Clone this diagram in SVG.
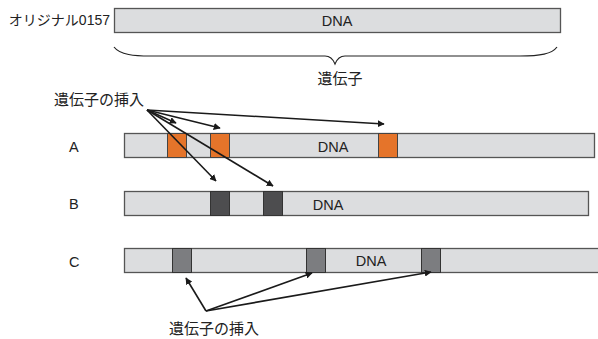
<svg xmlns="http://www.w3.org/2000/svg" width="598" height="339" viewBox="0 0 598 339">
<defs>
<style>
text{font-family:"Liberation Sans","Noto Sans CJK JP",sans-serif;font-size:14px;fill:#222}
.cjk{font-size:15px}
.lat{font-size:14.5px}
.bar{fill:#dcdddf;stroke:#555;stroke-width:1.3}
.or{fill:#e5742a;stroke:#444;stroke-width:1}
.dk{fill:#4d4d4f;stroke:#333;stroke-width:1}
.md{fill:#7c7d80;stroke:#333;stroke-width:1}
.arr{stroke:#1a1a1a;stroke-width:1.6;fill:none;marker-end:url(#ah)}
</style>
<marker id="ah" viewBox="0 0 10 10" refX="9" refY="5" markerWidth="7" markerHeight="7" markerUnits="userSpaceOnUse" orient="auto">
<path d="M0,0 L10,5 L0,10 z" fill="#1a1a1a"/>
</marker>
</defs>
<g id="original">
<text x="110" y="25" text-anchor="end">オリジナル0157</text>
<rect class="bar" x="114.5" y="8.5" width="446" height="24"/>
<text class="lat" x="337" y="26" text-anchor="middle">DNA</text>
<path d="M114,47 C120,55 135,56 150,56 L325,56 C330,56 333,59 335,64 C337,59 340,56 345,56 L520,56 C540,56 552,54 557,47" fill="none" stroke="#222" stroke-width="1.2"/>
<text class="cjk" x="340" y="84" text-anchor="middle">遺伝子</text>
</g>
<g id="labelTop"><text class="cjk" x="54" y="105">遺伝子の挿入</text></g>
<g id="A">
<text class="lat" x="69" y="152">A</text>
<rect class="bar" x="124.5" y="133.5" width="470" height="24"/>
<rect class="or" x="167.5" y="133.5" width="19" height="24"/>
<rect class="or" x="210.5" y="133.5" width="19" height="24"/>
<rect class="or" x="378.5" y="133.5" width="19" height="24"/>
<text class="lat" x="333" y="152" text-anchor="middle">DNA</text>
</g>
<g id="B">
<text class="lat" x="69" y="209">B</text>
<rect class="bar" x="124.5" y="191.5" width="464" height="24"/>
<rect class="dk" x="210.5" y="191.5" width="19" height="24"/>
<rect class="dk" x="263.5" y="191.5" width="19" height="24"/>
<text class="lat" x="328" y="210" text-anchor="middle">DNA</text>
</g>
<g id="C">
<text class="lat" x="69" y="267">C</text>
<rect class="bar" x="124.5" y="248.5" width="480" height="24"/>
<rect class="md" x="172.5" y="248.5" width="19" height="24"/>
<rect class="md" x="306.5" y="248.5" width="19" height="24"/>
<rect class="md" x="421.5" y="248.5" width="19" height="24"/>
<text class="lat" x="371" y="266" text-anchor="middle">DNA</text>
</g>
<g id="labelBottom"><text class="cjk" x="169" y="334">遺伝子の挿入</text></g>
<g id="connectors">
<line class="arr" x1="147" y1="110" x2="176" y2="123"/>
<line class="arr" x1="147" y1="110" x2="220" y2="128"/>
<line class="arr" x1="147" y1="110" x2="384" y2="124"/>
<line class="arr" x1="147" y1="110" x2="216" y2="181"/>
<line class="arr" x1="147" y1="110" x2="273" y2="186"/>
<line class="arr" x1="206" y1="311" x2="186" y2="278"/>
<line class="arr" x1="206" y1="311" x2="312" y2="273"/>
<line class="arr" x1="206" y1="311" x2="431" y2="272"/>
</g>
</svg>
